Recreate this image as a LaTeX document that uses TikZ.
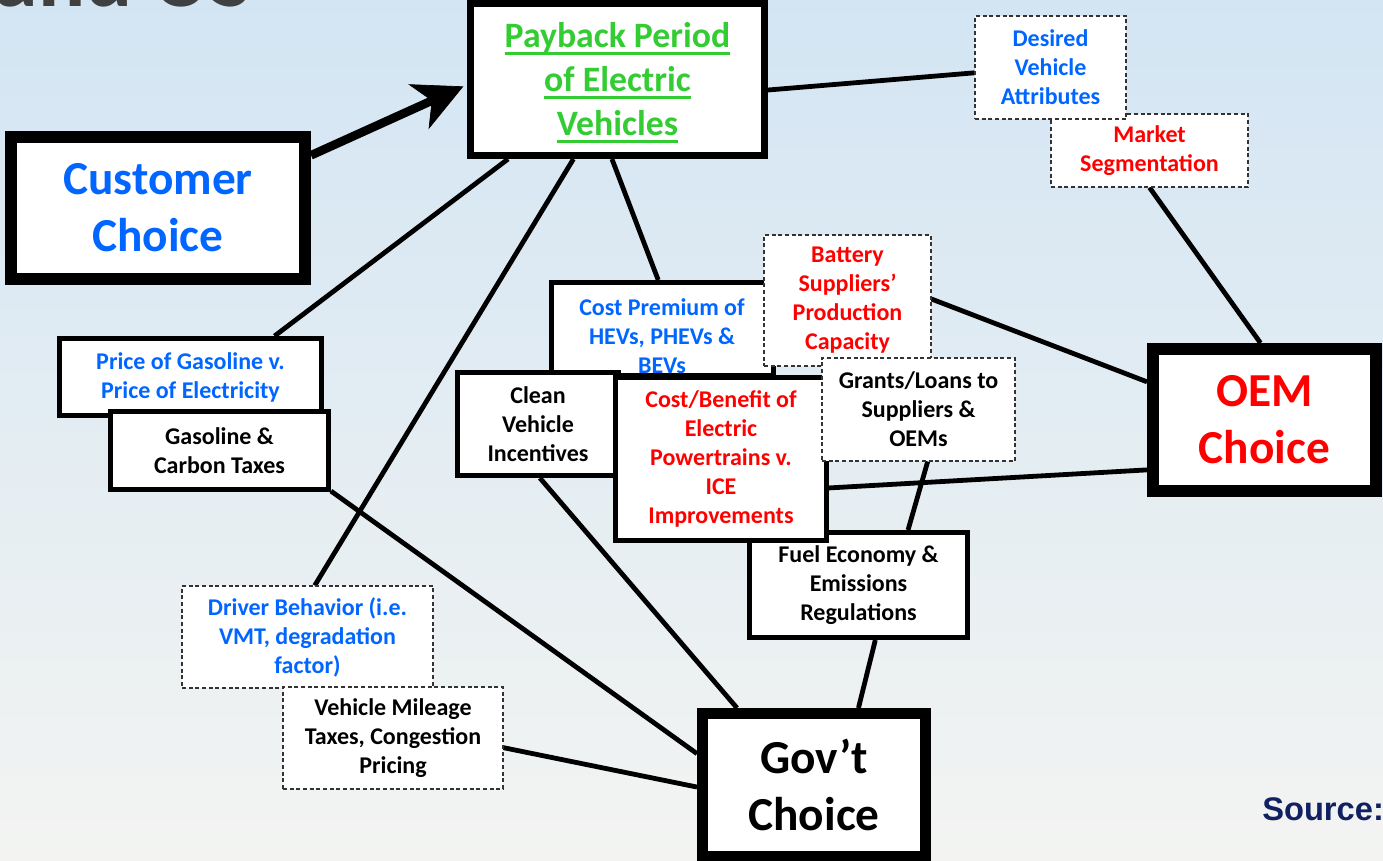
\documentclass[tikz,border=0pt]{standalone}
\usepackage{fontspec}
\setmainfont{Carlito}
\newfontfamily\arialfont{Liberation Sans}
\usetikzlibrary{arrows.meta}
\definecolor{cblue}{RGB}{0,102,255}
\definecolor{cgreen}{RGB}{51,204,51}
\definecolor{cred}{RGB}{255,0,0}
\definecolor{cnavy}{RGB}{16,32,96}
\definecolor{ctitle}{RGB}{64,64,64}
\definecolor{skyA}{RGB}{211,229,243}
\definecolor{skyB}{RGB}{229,237,244}
\definecolor{skyC}{RGB}{243,244,242}
\newcommand\smallfnt{\fontsize{18}{21.75}\selectfont\bfseries}
\newcommand\bigfnt{\fontsize{35.5}{42.75}\selectfont\bfseries}
\newcommand\payfnt{\fontsize{26.8}{33}\selectfont\bfseries}
\newsavebox\gulbox
\newcommand\gul[1]{\sbox\gulbox{#1}\rlap{\smash{\rule[-5.6pt]{\wd\gulbox}{2.2pt}}}\usebox\gulbox}
\pgfdeclarelayer{skylayer}
\pgfdeclarelayer{linelayer}
\pgfsetlayers{skylayer,linelayer,main}
\tikzset{
  boxbase/.style={fill=white, align=center, inner sep=0pt, font=\smallfnt},
  solidbox/.style={boxbase, draw=black, line width=3.75pt},
  dashbox/.style={boxbase, draw=black!80, line width=0.8pt, dash pattern=on 3pt off 2pt},
  bigbox/.style={boxbase, draw=black, line width=9pt, font=\bigfnt},
  link/.style={line width=3.6pt, draw=black},
}
\begin{document}
\begin{tikzpicture}[x=0.75pt,y=-0.75pt]
\useasboundingbox (0,0) rectangle (1383,860);
\clip (0,0) rectangle (1383,860);
\begin{pgfonlayer}{skylayer}
\shade[top color=skyA, middle color=skyB, bottom color=skyC] (0,0) rectangle (1383,860);
\end{pgfonlayer}

\node[font=\fontsize{66}{66}\selectfont\bfseries, text=ctitle, anchor=base east, inner sep=0pt] (title) at (252,7) {and US};

% boxes
\node[bigbox, minimum width=220.5pt, minimum height=106.5pt, text=cblue] (cust) at (158,208) {Customer\\Choice};
\node[solidbox, line width=5.25pt, minimum width=220.5pt, minimum height=114pt, font=\payfnt, text=cgreen] (pay) at (617.5,79.5) {\gul{Payback Period}\\\gul{of Electric}\\\gul{Vehicles}};
\node[dashbox, minimum width=147.75pt, minimum height=54.75pt, text=cred] (market) at (1149.5,150.5) {Market\\Segmentation};
\node[dashbox, minimum width=113.25pt, minimum height=77.25pt, text=cblue] (desired) at (1050.5,67.5) {Desired\\Vehicle\\Attributes};
\node[solidbox, minimum width=166.5pt, minimum height=69.75pt] (cp) at (662.5,329) {};
\node[text=cblue, font=\smallfnt, align=center, inner sep=0pt] (cptext) at (662,336) {Cost Premium of\\HEVs, PHEVs \&\\BEVs};
\node[dashbox, minimum width=125.25pt, minimum height=98.25pt, text=cred] (batt) at (847.5,300.5) {Battery\\Suppliers’\\Production\\Capacity};
\node[solidbox, minimum width=120.75pt, minimum height=77.25pt] (clean) at (538,424) {Clean\\Vehicle\\Incentives};
\node[solidbox, minimum width=163.5pt, minimum height=78.75pt] (fuel) at (858.5,585) {Fuel Economy \&\\Emissions\\Regulations};
\node[solidbox, minimum width=158.25pt, minimum height=122.25pt, text=cred] (cb) at (721,459) {Cost/Benefit of\\Electric\\Powertrains v.\\ICE\\Improvements};
\node[dashbox, minimum width=144.75pt, minimum height=77.25pt] (grants) at (918.5,409.5) {Grants/Loans to\\Suppliers \&\\OEMs};
\node[solidbox, minimum width=196.5pt, minimum height=57.75pt, text=cblue] (price) at (190.5,377) {Price of Gasoline v.\\Price of Electricity};
\node[solidbox, minimum width=163.5pt, minimum height=58.5pt] (gas) at (219.5,450.5) {Gasoline \&\\Carbon Taxes};
\node[dashbox, minimum width=188.25pt, minimum height=76.5pt, text=cblue] (driver) at (307.5,637) {Driver Behavior (i.e.\\VMT, degradation\\factor)};
\node[dashbox, minimum width=165pt, minimum height=76.5pt] (mile) at (393,738) {Vehicle Mileage\\Taxes, Congestion\\Pricing};
\node[bigbox, line width=8.25pt, minimum width=167.25pt, minimum height=107.25pt] (gov) at (814,785) {Gov’t\\Choice};
\node[bigbox, minimum width=167.25pt, minimum height=106.5pt, text=cred] (oem) at (1264.5,420) {OEM\\Choice};

\node[font=\arialfont\bfseries\fontsize{24.5}{24.5}\selectfont, text=cnavy, anchor=base west, inner sep=0pt] (src) at (1262,820) {Source:};

% connectors
\begin{pgfonlayer}{linelayer}
\draw[link, line width=6.5pt, -{Stealth[length=37pt,width=37pt,inset=11pt,line width=0.5pt]}, shorten >=3pt] (cust.19.6) -- (pay.182.8);
\draw[link] (pay.356.7) -- (desired.184.2);
\draw[link] (pay.216.1) -- (price.26.4);
\draw[link] (pay.241.6) -- (driver.82.7);
\draw[link] (pay.266) -- (cp.95.2);
\draw[link] (market.270.8) -- (oem.93.3);
\draw[link] (batt.1.7) -- (oem.162.5);
\draw[link] (cb.345.3) -- (oem.203.5);
\draw[link] (grants.280.5) -- (fuel.48.6);
\draw[link] (fuel.287.6) -- (gov.60.3);
\draw[link] (gas.340) -- (gov.165.7);
\draw[link] (mile.355.3) -- (gov.181);
\draw[link] (clean.272.1) -- (gov.135.7);
\end{pgfonlayer}
\end{tikzpicture}
\end{document}
